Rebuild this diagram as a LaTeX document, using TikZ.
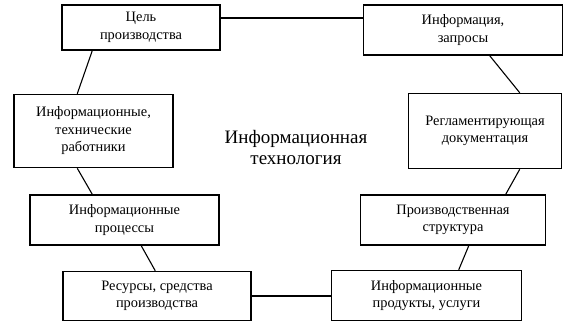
\documentclass[tikz,border=0pt]{standalone}
\usepackage{fontspec}
\setmainfont{Liberation Serif}
\usetikzlibrary{positioning}

\begin{document}
\begin{tikzpicture}[
        x=1pt, y=1pt,
        blok/.style={draw, line width=1.5pt, align=center, inner sep=2pt, font=\fontsize{14.4}{17.5}\selectfont},
        svyaz/.style={line width=1.1pt}
    ]
        \useasboundingbox (0,0) rectangle (566,-322);

        \node[blok, minimum width=158pt, minimum height=45pt] (cel) at (141,-27.5) {Цель\\производства};
        \node[blok, minimum width=199pt, minimum height=50pt, right=142pt of cel, yshift=-2.5pt] (info) {Информация,\\запросы};

        \node[blok, minimum width=159pt, minimum height=73pt, below=43pt of cel, xshift=-47.5pt] (kadry) {Информационные,\\технические\\работники};
        \node[blok, minimum width=153pt, minimum height=75pt, below=37pt of info, xshift=22pt] (reglament) {Регламентирующая\\документация};

        \node[blok, minimum width=189pt, minimum height=50pt, below=26pt of kadry, xshift=31pt] (processy) {Информационные\\процессы};
        \node[blok, minimum width=185pt, minimum height=50pt, below=25pt of reglament, xshift=-32pt] (struktura) {Производственная\\структура};

        \node[blok, minimum width=188pt, minimum height=49pt, below=25pt of processy, xshift=32.5pt] (resursy) {Ресурсы, средства\\производства};
        \node[blok, minimum width=190pt, minimum height=50pt, below=24pt of struktura, xshift=-26.5pt] (produkty) {Информационные\\продукты, услуги};

        \node[align=center, font=\fontsize{19}{21}\selectfont] (tekhnologiya) at (296,-147) {Информационная\\технология};

        \draw[svyaz] ([yshift=9.5pt]cel.east) -- ([yshift=9.5pt]cel.east -| info.west);
        \draw[svyaz] ([xshift=31pt]cel.south west) -- ([xshift=64pt]kadry.north west);
        \draw[svyaz] ([xshift=127pt]info.south west) -- ([xshift=112pt]reglament.north west);
        \draw[svyaz] ([xshift=64pt]kadry.south west) -- ([xshift=63pt]processy.north west);
        \draw[svyaz] ([xshift=112pt]reglament.south west) -- ([xshift=146pt]struktura.north west);
        \draw[svyaz] ([xshift=112pt]processy.south west) -- ([xshift=93pt]resursy.north west);
        \draw[svyaz] ([xshift=109pt]struktura.south west) -- ([xshift=128pt]produkty.north west);
        \draw[svyaz] (resursy.east) -- (resursy.east -| produkty.west);
    \end{tikzpicture}
\end{document}
